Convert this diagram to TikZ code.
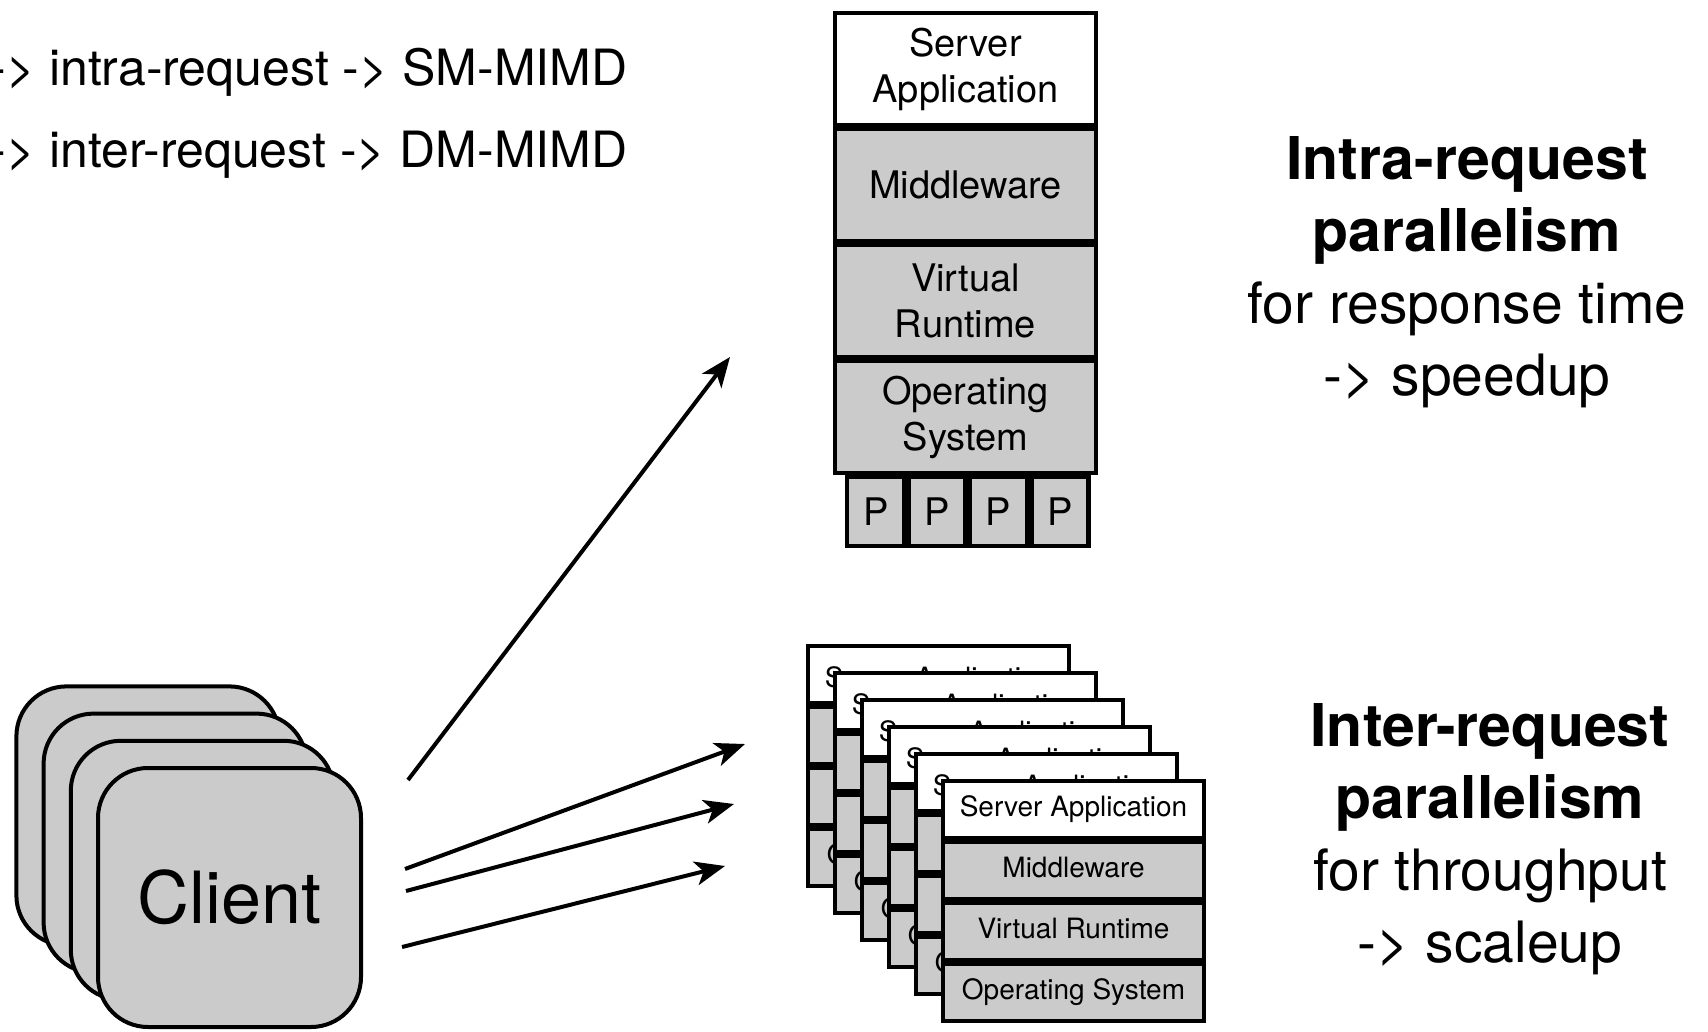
\documentclass[tikz,border=0pt]{standalone}
\usepackage{fontspec}
\setmainfont{TeX Gyre Heros}
\usetikzlibrary{arrows.meta,positioning}
\definecolor{layergray}{HTML}{CBCBCB}
\tikzset{
  layer/.style={draw, line width=2.2pt, fill=layergray, inner sep=0pt, align=center},
  toplayer/.style={layer, minimum width=130.3pt, minimum height=55.8pt, font=\fontsize{19}{23}\selectfont},
  smalllayer/.style={layer, minimum width=130.3pt, minimum height=28.3pt, text height=10pt, text depth=3pt, font=\fontsize{14}{16}\selectfont},
  hidden/.style={text height=13pt, text depth=0pt},
  proc/.style={layer, minimum width=28.5pt, minimum height=34.3pt, font=\fontsize{19}{23}\selectfont},
  client/.style={draw, line width=2pt, fill=layergray, rounded corners=25pt, minimum width=131.5pt, minimum height=129.5pt},
  note/.style={font=\fontsize{25}{28}\selectfont, inner sep=0pt},
  heading/.style={align=center, font=\fontsize{28.5}{36}\selectfont},
  req/.style={line width=2pt, -{Stealth[length=15pt,width=12pt,inset=4pt]}},
}
\begin{document}
\begin{tikzpicture}[x=0.5pt,y=-0.5pt]
\useasboundingbox (0,0) rectangle (1708,1032);

% mapping to machine classes
\node[note, anchor=base east] (intraline) at (628,86) {-> intra-request -> SM-MIMD};
\node[note, anchor=base east] (interline) at (628,168) {-> inter-request -> DM-MIMD};

% one request spread over the processors
\node[toplayer, fill=white] (app) at (965.5,69) {Server\\Application};
\node[toplayer, below=0pt of app] (mw) {Middleware};
\node[toplayer, below=0pt of mw] (vr) {Virtual\\Runtime};
\node[toplayer, below=0pt of vr] (os) {Operating\\System};
\node[proc, anchor=north west] (p1) at ([xshift=6pt]os.south west) {P};
\node[proc, right=0pt of p1] (p2) {P};
\node[proc, right=0pt of p2] (p3) {P};
\node[proc, right=0pt of p3] (p4) {P};

% many servers, one request each
\foreach \k in {5,4,3,2,1} {
  \node[smalllayer, hidden, fill=white] (sapp\k) at (1073.5-27*\k,809.5-27*\k) {Server Application};
  \node[smalllayer, below=0pt of sapp\k] (smw\k) {Middleware};
  \node[smalllayer, below=0pt of smw\k] (svr\k) {Virtual Runtime};
  \node[smalllayer, below=0pt of svr\k] (sos\k) {Operating System};
}
\node[smalllayer, fill=white] (sapp0) at (1073.5,809.5) {Server Application};
\node[smalllayer, below=0pt of sapp0] (smw0) {Middleware};
\node[smalllayer, below=0pt of smw0] (svr0) {Virtual Runtime};
\node[smalllayer, below=0pt of svr0] (sos0) {Operating System};

% clients
\foreach \k in {3,2,1}
  \node[client] (client\k) at (229.5-27.2*\k,897.5-27.2*\k) {};
\node[client, font=\fontsize{36}{40}\selectfont] (client) at (229.5,897.5) {Client};

% requests
\coordinate (from1) at (408,780);
\coordinate (to1) at (730,357);
\coordinate (from2) at (405,869);
\coordinate (to2) at (745,744);
\coordinate (from3) at (406,891);
\coordinate (to3) at (734,804);
\coordinate (from4) at (402,947);
\coordinate (to4) at (725,866);
\draw[req] (from1) -- (to1);
\draw[req] (from2) -- (to2);
\draw[req] (from3) -- (to3);
\draw[req] (from4) -- (to4);

% what each kind of parallelism buys
\node[heading] (intra) at (1467,272) {{\bfseries\fontsize{29.5}{36}\selectfont Intra-request}\\{\bfseries\fontsize{29.5}{36}\selectfont parallelism}\\for response time\\-> speedup};
\node[heading] (inter) at (1490,839) {{\bfseries\fontsize{29.5}{36}\selectfont Inter-request}\\{\bfseries\fontsize{29.5}{36}\selectfont parallelism}\\for throughput\\-> scaleup};
\end{tikzpicture}
\end{document}
